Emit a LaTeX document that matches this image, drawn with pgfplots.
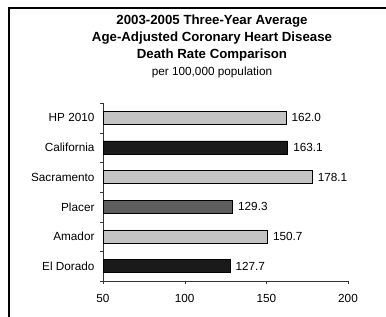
\documentclass[border=0pt]{standalone}
\usepackage{pgfplots}
\pgfplotsset{compat=1.18}
\usepackage{fontspec}
\setmainfont{Liberation Sans}
\definecolor{lightbar}{HTML}{C4C4C4}
\definecolor{darkbar}{HTML}{1A1A1A}
\definecolor{midbar}{HTML}{5E5E5E}
\begin{document}
\begin{tikzpicture}[x=1bp,y=1bp]
\useasboundingbox (0,0) rectangle (386,317);
% frame
\draw[line width=2bp] (9,0) -- (9,309) -- (386,309);
% title
\node[font=\fontsize{13.3}{15}\selectfont\bfseries] at (212,317-21) {2003-2005 Three-Year Average};
\node[font=\fontsize{13.3}{15}\selectfont\bfseries] at (212,317-38) {Age-Adjusted Coronary Heart Disease};
\node[font=\fontsize{13.3}{15}\selectfont\bfseries] at (212,317-55) {Death Rate Comparison};
\node[font=\fontsize{11.8}{14}\selectfont] at (212,317-72) {per 100,000 population};
\begin{axis}[
  at={(103bp,36bp)}, anchor=south west,
  scale only axis, width=245bp, height=178bp,
  xmin=50, xmax=200, ymin=-0.5, ymax=5.5,
  axis x line=bottom, axis y line=left,
  axis line style={-, line width=0.6pt, black!80},
  xtick={50,100,150,200},
  ytick={0,1,2,3,4,5},
  yticklabels={El Dorado, Amador, Placer, Sacramento, California, HP 2010},
  minor ytick={-0.5,0.5,1.5,2.5,3.5,4.5,5.5},
  major tick length=3bp,
  minor tick length=3bp,
  tick align=outside,
  every major y tick/.style={draw=none},
  tick style={black!80},
  ticklabel style={font=\fontsize{11.8}{13}\selectfont},
  /pgf/number format/assume math mode=true,
  xticklabel style={yshift=-7bp},
  yticklabel style={xshift=-2bp},
  xbar, bar width=13bp, bar shift=0pt,
  nodes near coords,
  every node near coord/.append style={font=\fontsize{11.8}{13}\selectfont, anchor=west, xshift=2bp,
    /pgf/number format/.cd, fixed, fixed zerofill, precision=1, assume math mode=true},
  clip=true,
]
\addplot[draw=black, line width=0.6pt, fill=lightbar] coordinates {(162.0,5) (178.1,3) (150.7,1)};
\addplot[draw=black, line width=0.6pt, fill=darkbar] coordinates {(163.1,4) (127.7,0)};
\addplot[draw=black, line width=0.6pt, fill=midbar] coordinates {(129.3,2)};
\end{axis}
\end{tikzpicture}
\end{document}
